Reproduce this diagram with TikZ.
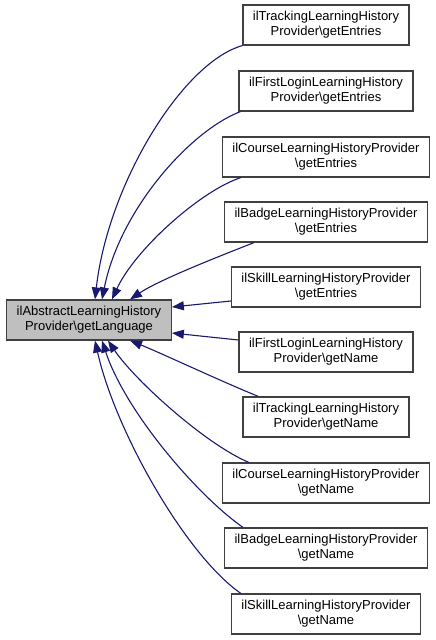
\documentclass[tikz,border=0pt]{standalone}
\usepackage{fontspec}
\setmainfont{Liberation Sans}
\usepackage{xcolor}
\usepackage{tikz}
\usetikzlibrary{positioning, arrows.meta}
\definecolor{eBlue}{HTML}{191970}
\definecolor{bLine}{HTML}{404040}
\definecolor{bFill}{HTML}{BFBFBF}

\begin{document}
\begin{tikzpicture}[x=1pt, y=-1pt,
    fnbox/.style={rectangle, draw=bLine, line width=1.2pt, fill=white, align=center,
      minimum height=40pt, inner xsep=10pt, inner ysep=2pt, font=\fontsize{13}{15}\selectfont},
    calls/.style={-{Triangle[length=12pt, width=9pt]}, eBlue, line width=1.1pt}]
  \useasboundingbox (0,0) rectangle (436,640);
  \node[fnbox, fill=bFill] (abs) at (89,320) {ilAbstractLearningHistory\\Provider\textbackslash getLanguage};
  \node[fnbox] (trackEntries) at (326,25) {ilTrackingLearningHistory\\Provider\textbackslash getEntries};
  \node[fnbox] (loginEntries) at (326,91) {ilFirstLoginLearningHistory\\Provider\textbackslash getEntries};
  \node[fnbox] (courseEntries) at (326,157) {ilCourseLearningHistoryProvider\\\textbackslash getEntries};
  \node[fnbox] (badgeEntries) at (326,222) {ilBadgeLearningHistoryProvider\\\textbackslash getEntries};
  \node[fnbox] (skillEntries) at (326,287) {ilSkillLearningHistoryProvider\\\textbackslash getEntries};
  \node[fnbox] (loginName) at (326,352) {ilFirstLoginLearningHistory\\Provider\textbackslash getName};
  \node[fnbox] (trackName) at (326,417) {ilTrackingLearningHistory\\Provider\textbackslash getName};
  \node[fnbox] (courseName) at (326,483) {ilCourseLearningHistoryProvider\\\textbackslash getName};
  \node[fnbox] (badgeName) at (326,548) {ilBadgeLearningHistoryProvider\\\textbackslash getName};
  \node[fnbox] (skillName) at (326,614) {ilSkillLearningHistoryProvider\\\textbackslash getName};
  % callers above
  \draw[calls] (trackEntries.south west) .. controls +(-60,17) and +(13,-115) .. ([xshift=6pt]abs.north);
  \draw[calls] ([xshift=2pt]loginEntries.south west) .. controls +(-50,19) and +(18,-90) .. ([xshift=13pt]abs.north);
  \draw[calls] ([xshift=19pt]courseEntries.south west) .. controls +(-40,13) and +(23,-50) .. ([xshift=23pt]abs.north);
  \draw[calls] ([xshift=30pt]badgeEntries.south west) .. controls +(-33,13) and +(30,-20) .. ([xshift=41pt]abs.north);
  % callers beside
  \draw[calls] ([yshift=-14pt]skillEntries.west) -- ([yshift=13pt]abs.east);
  \draw[calls] ([yshift=12pt]loginName.west) -- ([yshift=-13pt]abs.east);
  % callers below
  \draw[calls] ([xshift=16pt]trackName.north west) .. controls +(-37,-15) and +(30,12) .. ([xshift=41pt]abs.south);
  \draw[calls] ([xshift=27pt]courseName.north west) .. controls +(-43,-18) and +(27,40) .. ([xshift=19pt]abs.south);
  \draw[calls] ([xshift=19pt]badgeName.north west) .. controls +(-47,-33) and +(23,70) .. ([xshift=13pt]abs.south);
  \draw[calls] ([xshift=10pt]skillName.north west) .. controls +(-55,-38) and +(20,90) .. ([xshift=6pt]abs.south);
\end{tikzpicture}
\end{document}
